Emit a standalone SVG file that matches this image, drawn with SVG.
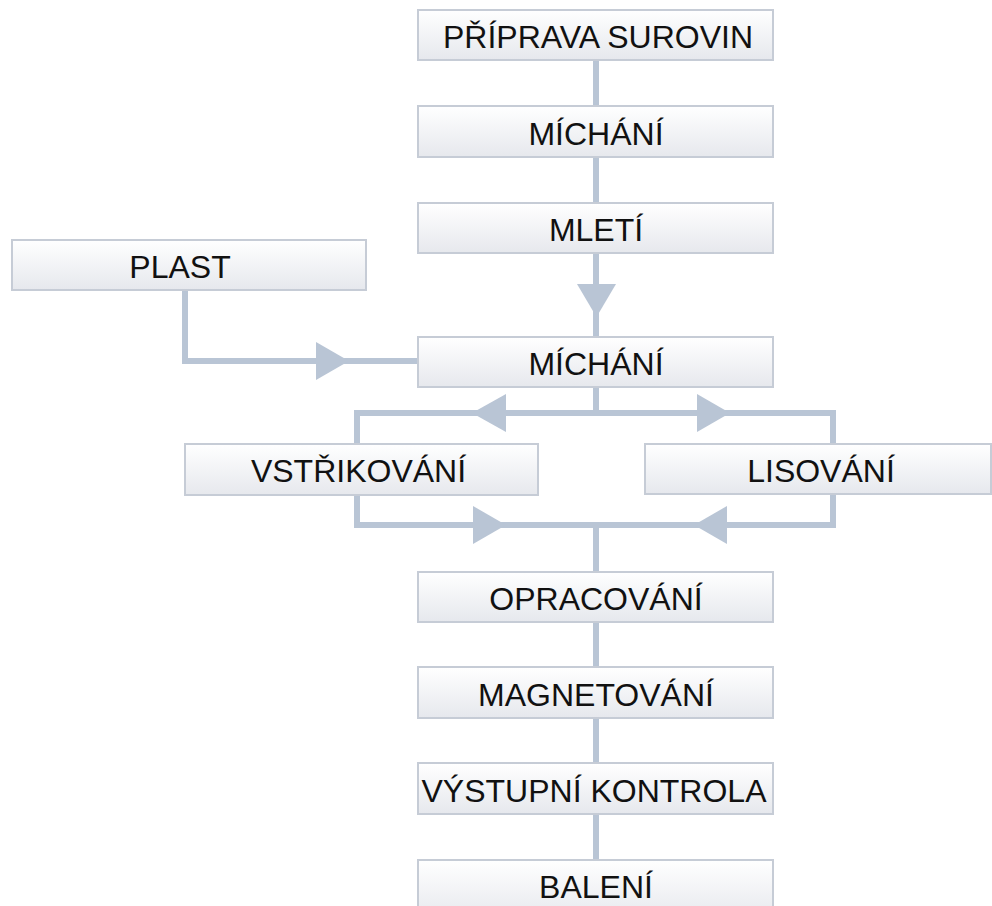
<svg xmlns="http://www.w3.org/2000/svg" width="992" height="906" viewBox="0 0 992 906">
  <defs>
    <linearGradient id="boxFill" x1="0" y1="0" x2="0" y2="1">
      <stop offset="0" stop-color="#ffffff"/>
      <stop offset="1" stop-color="#e6e8ed"/>
    </linearGradient>
    <style>
      .box { fill: url(#boxFill); stroke: #c6ccd6; stroke-width: 2; }
      .lbl { font-family: "Liberation Sans", Arial, sans-serif; font-size: 32px; fill: #111111; text-anchor: middle; }
      .wire { fill: none; stroke: #b9c5d5; stroke-width: 6; stroke-linejoin: miter; stroke-linecap: butt; }
      .head { fill: #b9c5d5; }
    </style>
  </defs>
  <rect width="992" height="906" fill="#ffffff"/>

  <!-- connectors -->
  <g id="connectors">
    <path class="wire" d="M596 60 V106"/>
    <path class="wire" d="M596 157 V203"/>
    <path class="wire" d="M596 253 V337"/>
    <polygon class="head" points="577,284 616,284 596.5,317"/>

    <path class="wire" d="M185 290 V361 H418"/>
    <polygon class="head" points="316,342 316,380 349,361"/>

    <path class="wire" d="M596 387 V413"/>
    <path class="wire" d="M357 444 V413 H833 V444"/>
    <polygon class="head" points="506,394 506,432 472,413"/>
    <polygon class="head" points="697,394 697,432 730,413"/>

    <path class="wire" d="M357 495 V525 H833 V494"/>
    <polygon class="head" points="473,506 473,544 506,525"/>
    <polygon class="head" points="727,506 727,544 694,525"/>
    <path class="wire" d="M596 525 V572"/>

    <path class="wire" d="M596 622 V667"/>
    <path class="wire" d="M596 718 V763"/>
    <path class="wire" d="M596 814 V860"/>
  </g>

  <!-- nodes -->
  <g id="n-priprava">
    <rect class="box" x="418" y="10" width="355" height="50"/>
    <text class="lbl" x="598" y="48">PŘÍPRAVA SUROVIN</text>
  </g>
  <g id="n-michani1">
    <rect class="box" x="418" y="106" width="355" height="51"/>
    <text class="lbl" x="596" y="145">MÍCHÁNÍ</text>
  </g>
  <g id="n-mleti">
    <rect class="box" x="418" y="203" width="355" height="50"/>
    <text class="lbl" x="596" y="241">MLETÍ</text>
  </g>
  <g id="n-plast">
    <rect class="box" x="12" y="240" width="354" height="50"/>
    <text class="lbl" x="180" y="278">PLAST</text>
  </g>
  <g id="n-michani2">
    <rect class="box" x="418" y="337" width="355" height="50"/>
    <text class="lbl" x="596" y="375">MÍCHÁNÍ</text>
  </g>
  <g id="n-vstrikovani">
    <rect class="box" x="185" y="444" width="353" height="51"/>
    <text class="lbl" x="358.5" y="482">VSTŘIKOVÁNÍ</text>
  </g>
  <g id="n-lisovani">
    <rect class="box" x="645" y="444" width="346" height="50"/>
    <text class="lbl" x="821" y="482">LISOVÁNÍ</text>
  </g>
  <g id="n-opracovani">
    <rect class="box" x="418" y="572" width="355" height="50"/>
    <text class="lbl" x="596" y="610">OPRACOVÁNÍ</text>
  </g>
  <g id="n-magnetovani">
    <rect class="box" x="418" y="667" width="355" height="51"/>
    <text class="lbl" x="596" y="706">MAGNETOVÁNÍ</text>
  </g>
  <g id="n-kontrola">
    <rect class="box" x="418" y="763" width="355" height="51"/>
    <text class="lbl" x="594" y="802">VÝSTUPNÍ KONTROLA</text>
  </g>
  <g id="n-baleni">
    <rect class="box" x="418" y="860" width="355" height="60"/>
    <text class="lbl" x="596" y="898">BALENÍ</text>
  </g>
</svg>
